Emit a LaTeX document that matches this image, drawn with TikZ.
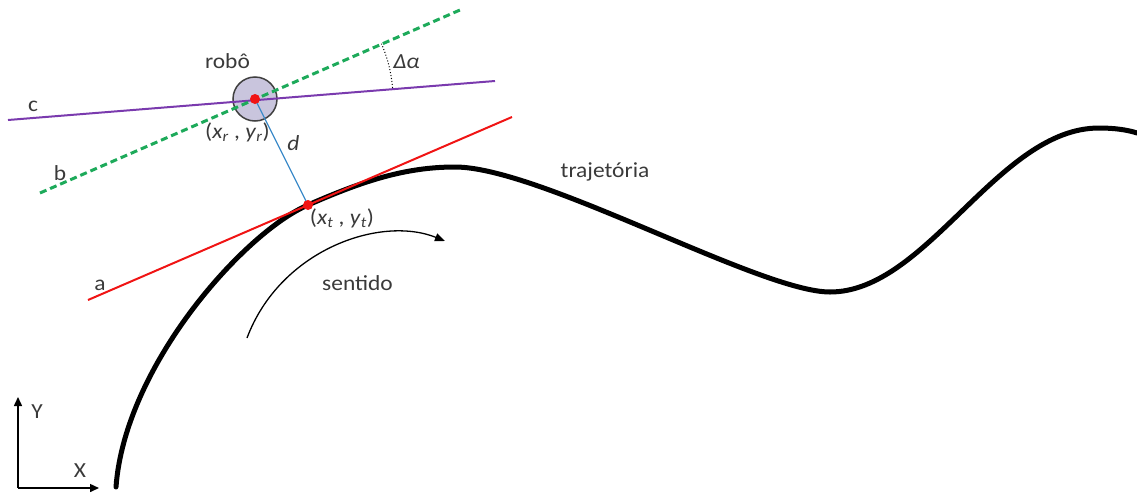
\documentclass[tikz,border=0pt]{standalone}
\usepackage{fontspec}
\setmainfont{Carlito}
\usetikzlibrary{arrows.meta}
\definecolor{cpurple}{HTML}{7A3AAE}
\definecolor{cgreen}{HTML}{1DAA5A}
\definecolor{cred}{HTML}{F01414}
\definecolor{cblue}{HTML}{3D8BC9}
\definecolor{cfill}{HTML}{C9C5DD}
\definecolor{cedge}{HTML}{404040}
\definecolor{ctext}{HTML}{3A3A3A}
\newcommand{\hs}[1]{\scalebox{1.09}[1]{#1}}
\begin{document}
\begin{tikzpicture}[x=1pt,y=-1pt,
  lbl/.style={font=\fontsize{21.5}{24}\selectfont, text=ctext, inner sep=0pt, anchor=base},
  traj/.style={line width=5pt, line cap=round, black},
  lineA/.style={cred, line width=2pt},
  lineB/.style={cgreen, line width=3pt, dash pattern=on 7pt off 4pt},
  lineC/.style={cpurple, line width=2pt},
  dline/.style={cblue, line width=1.3pt},
  dot/.style={circle, fill=cred, inner sep=0pt, minimum size=10pt},
  robotbody/.style={circle, fill=cfill, draw=cedge, line width=1.5pt, inner sep=0pt, minimum size=44pt},
  axis/.style={black, line width=1.5pt, -{Triangle[length=9pt,width=8pt]}},
  dirarrow/.style={black, line width=1.3pt, -{Triangle[length=10pt,width=8pt]}},
  anglearc/.style={black, line width=1pt, dotted}]
\useasboundingbox (0,0) rectangle (1137,493);

% key points
\coordinate (rc) at (255,99);
\coordinate (tc) at (308,205);
\coordinate (t0) at (116,487);
\coordinate (tpk) at (455,167);
\coordinate (tmin) at (830,292);
\coordinate (ttop) at (1099,128);
\coordinate (tend) at (1137,133);

% trajectory
\draw[traj] (t0) .. controls (125,365) and (245,232) .. (tc)
  .. controls (362,181.3) and (405,167) .. (tpk)
  .. controls (540,167) and (760,292) .. (tmin)
  .. controls (927,292) and (998,128) .. (ttop)
  .. controls (1115,128) and (1128,130) .. (tend);

% robot body
\node[robotbody] (robot) at (rc) {};

% lines
\coordinate (a1) at (88,300);
\coordinate (a2) at (512,117);
\coordinate (b1) at (40,193);
\coordinate (b2) at (460,10);
\coordinate (c1) at (8,120);
\coordinate (c2) at (495,81);
\draw[lineC] (c1) -- (c2);
\draw[lineB] (b1) -- (b2);
\draw[lineA] (a1) -- (a2);

% angle arc
\draw[anglearc] plot[domain=4.6:23.6, samples=30] ({255+138*cos(\x)},{99-138*sin(\x)});

% distance d
\draw[dline] (rc) -- (tc);
\node[dot] (rdot) at (rc) {};
\node[dot] (tdot) at (tc) {};

% direction arrow
\coordinate (s1) at (247,338);
\coordinate (s2) at (445,241);
\draw[dirarrow] (s1) .. controls (280,250) and (380,215) .. (s2);

% axes
\coordinate (o) at (18,488);
\coordinate (ya) at (18,397);
\coordinate (xa) at (99,488);
\draw[axis] (o) -- (ya);
\draw[axis] (o) -- (xa);

% labels
\node[lbl] (lrobo) at (227.5,68) {\hs{robô}};
\node[lbl] (lc) at (33,111) {\hs{c}};
\node[lbl] (lb) at (60,180) {\hs{b}};
\node[lbl] (la) at (100,290) {\hs{a}};
\node[lbl] (ld) at (293.5,150) {\hs{\textit{d}}};
\node[lbl] (lxr) at (237.5,138) {\hs{(\textit{x}\textsubscript{\textit{r}} , \textit{y}\textsubscript{\textit{r}})}};
\node[lbl] (lxt) at (342,224) {\hs{(\textit{x}\textsubscript{\textit{t}} , \textit{y}\textsubscript{\textit{t}})}};
\node[lbl] (lda) at (406.5,68) {\hs{\textit{Δα}}};
\node[lbl] (ltraj) at (605,177) {\hs{trajetória}};
\node[lbl] (lsent) at (357.5,290) {\hs{sentido}};
\node[lbl] (lY) at (37,418) {\hs{Y}};
\node[lbl] (lX) at (80,477) {\hs{X}};
\end{tikzpicture}
\end{document}
